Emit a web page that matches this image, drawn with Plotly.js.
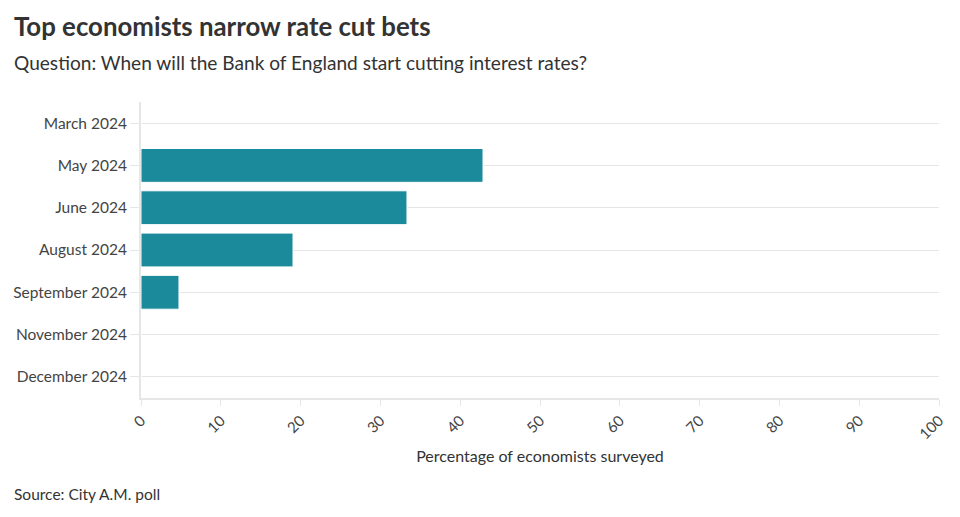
<!DOCTYPE html>
<html><head><meta charset="utf-8">
<script src="https://cdn.plot.ly/plotly-3.0.1.min.js"></script>
<style>html,body{margin:0;padding:0;background:#fff;}#chart{width:960px;height:517px;}</style>
</head><body><div id="chart"></div>
<script>
const categories = ["March 2024","May 2024","June 2024","August 2024","September 2024","November 2024","December 2024"];
const values = [0, 42.86, 33.33, 19.05, 4.76, 0, 0];
const xTicks = [0,10,20,30,40,50,60,70,80,90,100];

const font = "Lato, 'Source Sans Pro', 'Noto Sans', sans-serif";
const trace = {
  type: 'bar', orientation: 'h',
  x: values, y: categories,
  marker: {color: '#1b8a9a', line: {color: '#ffffff', width: 1}},
  hoverinfo: 'x+y'
};
const M = {l: 141, r: 21, t: 102, b: 119};
const plotH = 517 - M.t - M.b, plotW = 960 - M.l - M.r;
function px(xp){return (xp-M.l)/plotW;}
function py(yp){return (517-M.b-yp)/plotH;}
const layout = {
  width: 960, height: 517,
  margin: M,
  paper_bgcolor: '#fff', plot_bgcolor: '#fff',
  font: {family: font, color: '#333'},
  bargap: 0.2,
  showlegend: false,
  xaxis: {
    range: [0, 100], tickvals: xTicks, ticktext: xTicks.map(String),
    tickangle: -45, showgrid: false, zeroline: false,
    showline: true, linecolor: '#e6e6e6', linewidth: 2,
    ticks: 'outside', ticklen: 6, tickcolor: '#e6e6e6',
    tickfont: {size: 15, color: '#444', family: font},
    title: {text: 'Percentage of economists surveyed', font: {size: 16, color: '#333', family: font}, standoff: 9},
    fixedrange: true
  },
  yaxis: {
    categoryorder: 'array', categoryarray: categories,
    autorange: 'reversed',
    showgrid: true, gridcolor: '#e6e6e6', gridwidth: 1,
    showline: true, linecolor: '#e6e6e6', linewidth: 2,
    ticks: 'outside', ticklen: 9, tickcolor: '#e6e6e6',
    tickfont: {size: 15.5, color: '#444', family: font},
    zeroline: false, fixedrange: true
  },
  annotations: [
    {text: '<b>Top economists narrow rate cut bets</b>', xref: 'paper', yref: 'paper', x: px(12), y: py(26), xanchor: 'left', yanchor: 'middle', showarrow: false, font: {size: 25.8, color: '#333', family: font}},
    {text: 'Question: When will the Bank of England start cutting interest rates?', xref: 'paper', yref: 'paper', x: px(12), y: py(63), xanchor: 'left', yanchor: 'middle', showarrow: false, font: {size: 19.1, color: '#333', family: font}},
    {text: 'Source: City A.M. poll', xref: 'paper', yref: 'paper', x: px(12), y: py(494), xanchor: 'left', yanchor: 'middle', showarrow: false, font: {size: 15.5, color: '#333', family: font}}
  ]
};
Plotly.newPlot('chart', [trace], layout, {displayModeBar: false, staticPlot: true});
</script></body></html>
